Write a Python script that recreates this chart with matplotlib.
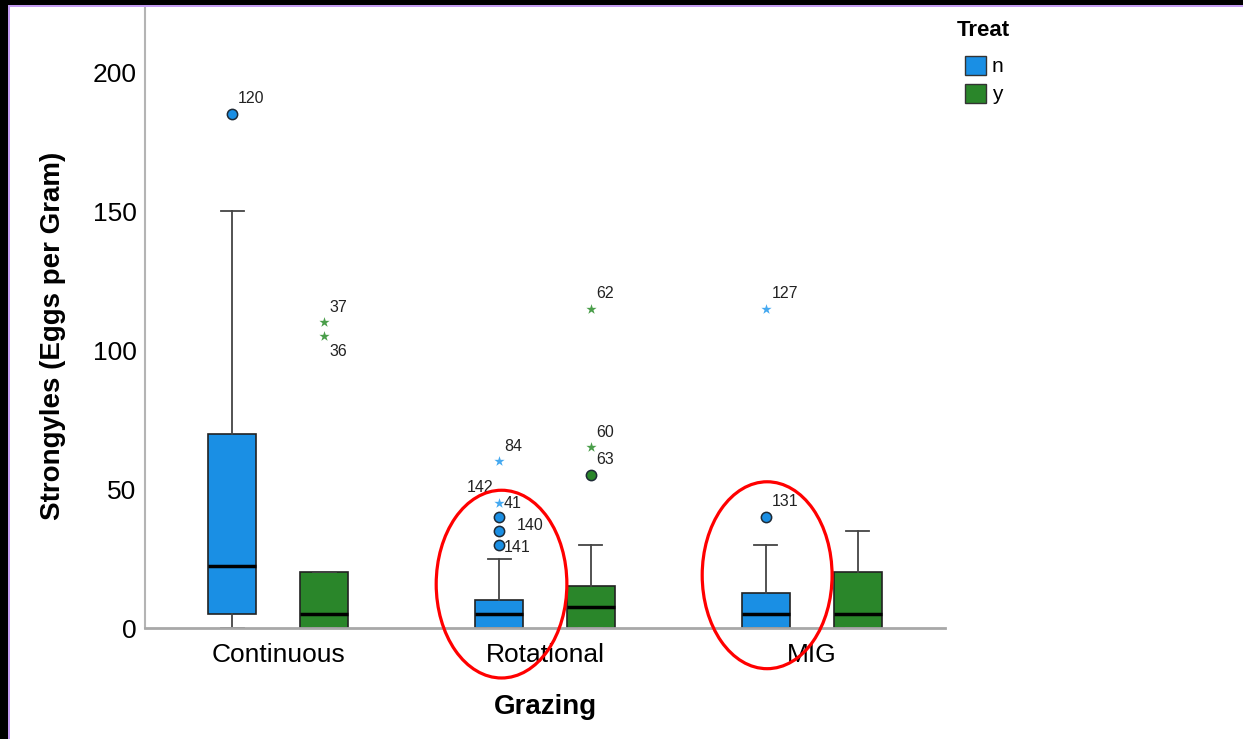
import matplotlib.pyplot as plt
from matplotlib.patches import Ellipse, Rectangle, Patch

plt.rcParams['font.family'] = ['Liberation Sans', 'DejaVu Sans']

# data
groups = ["Continuous", "Rotational", "MIG"]
treats = ["n", "y"]

q1 = {"n": [5, 0, 0], "y": [0, 0, 0]}
med = {"n": [22.5, 5, 5], "y": [5, 7.5, 5]}
q3 = {"n": [70, 10, 12.5], "y": [20, 15, 20]}
whis_lo = {"n": [0, 0, 0], "y": [0, 0, 0]}
whis_hi = {"n": [150, 25, 30], "y": [20, 30, 35]}

# outliers: group index, treat, value, kind, case label
out_group = [0, 0, 0, 1, 1, 1, 1, 1, 1, 1, 1, 2, 2]
out_treat = ["n", "y", "y", "n", "n", "n", "n", "n", "y", "y", "y", "n", "n"]
out_value = [185, 110, 105, 30, 35, 40, 45, 60, 55, 65, 115, 40, 115]
out_kind = ["o", "*", "*", "o", "o", "o", "*", "*", "o", "*", "*", "o", "*"]
out_label = ["120", "37", "36", "141", "140", "142", "41", "84", "63", "60", "62", "131", "127"]

box_colors = {"n": "#1a8fe4", "y": "#2a862a"}
star_colors = {"n": "#45a9f0", "y": "#4a9e4a"}
offsets = {"n": -0.172, "y": 0.172}

# label offsets in points (dx, dy, ha)
label_pos = {
    "36": (4, -11, "left"),
    "141": (3, -2, "left"),
    "140": (13, 4, "left"),
    "142": (-4, 21, "right"),
    "41": (3, 0, "left"),
}

fig = plt.figure(figsize=(12.43, 7.39), dpi=100)
ax = fig.add_axes([145 / 1243, 111 / 739, 800 / 1243, 621 / 739])

for t in treats:
    stats = []
    for i in range(len(groups)):
        stats.append(dict(med=med[t][i], q1=q1[t][i], q3=q3[t][i],
                          whislo=whis_lo[t][i], whishi=whis_hi[t][i], fliers=[]))
    pos = [i + offsets[t] for i in range(len(groups))]
    ax.bxp(stats, positions=pos, widths=0.18, capwidths=0.086,
           patch_artist=True, showfliers=False,
           boxprops=dict(facecolor=box_colors[t], edgecolor="#222222", linewidth=1.2),
           medianprops=dict(color="black", linewidth=2.5),
           whiskerprops=dict(color="#444444", linewidth=1.3),
           capprops=dict(color="#444444", linewidth=1.3),
           manage_ticks=False)

for g, t, v, k, lab in zip(out_group, out_treat, out_value, out_kind, out_label):
    x = g + offsets[t]
    if k == "o":
        ax.scatter(x, v, s=55, marker="o", facecolor=box_colors[t],
                   edgecolor="#1e2a36", linewidth=1.1, zorder=4, clip_on=False)
    else:
        ax.scatter(x, v, s=60, marker="*", color=star_colors[t],
                   linewidth=0, zorder=4, clip_on=False)
    dx, dy, ha = label_pos.get(lab, (4, 11, "left"))
    ax.annotate(lab, (x, v), xytext=(dx, dy), textcoords="offset points",
                ha=ha, va="center", fontsize=11.5, color="#222222")

# red highlight ellipses
ell_x = [0.837, 1.833]
ell_y = [15.8, 19.0]
ell_w = [0.49, 0.487]
ell_h = [67.6, 67.3]
for ex, ey, ew, eh in zip(ell_x, ell_y, ell_w, ell_h):
    ax.add_patch(Ellipse((ex, ey), ew, eh, fill=False, edgecolor="#ff0000",
                         linewidth=2.3, clip_on=False, zorder=6))

ax.set_xlim(-0.5, 2.5)
ax.set_ylim(0, 223.6)
ax.set_xticks(range(len(groups)))
ax.set_xticklabels(groups)
ax.set_yticks([0, 50, 100, 150, 200])
ax.tick_params(length=0, labelsize=19)
ax.tick_params(axis="x", pad=11)
ax.tick_params(axis="y", pad=6)
ax.set_xlabel("Grazing", fontsize=20, fontweight="bold", labelpad=19)
ax.set_ylabel("Strongyles (Eggs per Gram)", fontsize=20, fontweight="bold")
ax.yaxis.set_label_coords(-0.099, 0.471)
for s in ["top", "right"]:
    ax.spines[s].set_visible(False)
ax.spines["left"].set_color("#b4b4b4")
ax.spines["left"].set_linewidth(1.5)
ax.spines["bottom"].set_color("#a8a8a8")
ax.spines["bottom"].set_linewidth(2)

W, H = 1243, 739
fig.text(957 / W, 1 - 30 / H, "Treat", fontsize=16, fontweight="bold",
         ha="left", va="center")
handles = [Patch(facecolor=box_colors[t], edgecolor="#333333", linewidth=1) for t in treats]
fig.legend(handles, treats, loc="upper left",
           bbox_to_anchor=(950 / W, 1 - 41 / H), frameon=False,
           fontsize=15, handlelength=1.05, handleheight=1.05,
           handletextpad=0.25, labelspacing=0.35, borderpad=0.2)

# screenshot frame
fig.patches.append(Rectangle((0, 1 - 5 / H), 1, 5 / H, transform=fig.transFigure,
                             facecolor="black", edgecolor="none"))
fig.patches.append(Rectangle((0, 1 - 7 / H), 1, 2 / H, transform=fig.transFigure,
                             facecolor="#c49cf2", edgecolor="none"))
fig.patches.append(Rectangle((0, 0), 8 / W, 1, transform=fig.transFigure,
                             facecolor="black", edgecolor="none"))
fig.patches.append(Rectangle((8 / W, 0), 2 / W, 1 - 5 / H, transform=fig.transFigure,
                             facecolor="#c49cf2", edgecolor="none"))

fig.savefig("out.png", dpi=100)
